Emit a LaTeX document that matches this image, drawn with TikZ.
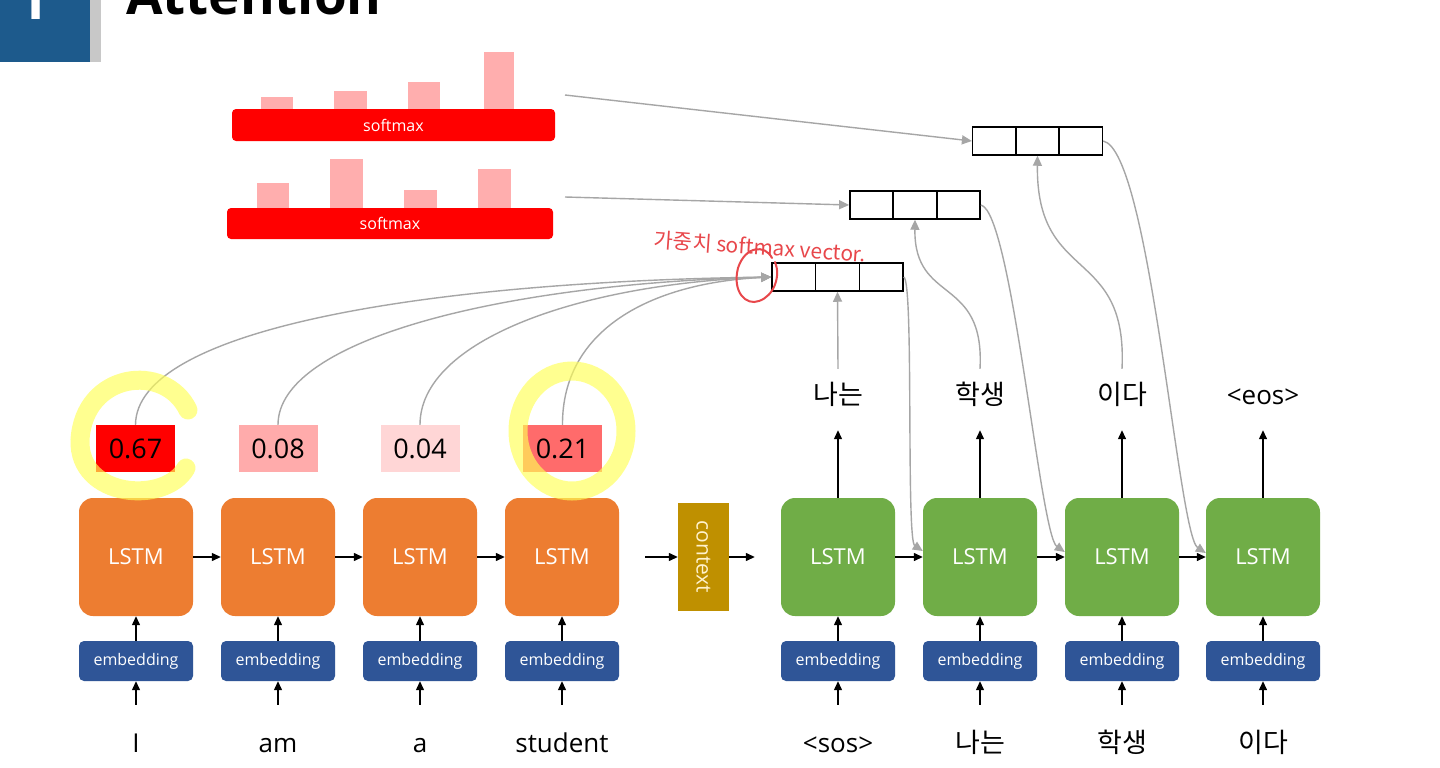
\documentclass[tikz,border=0pt]{standalone}
\usepackage{fontspec}
\setmainfont{Open Sans}
\newfontfamily\kr{Noto Sans CJK KR}
\usetikzlibrary{arrows.meta}
\definecolor{lstmenc}{HTML}{ED7D31}
\definecolor{lstmdec}{HTML}{70AD47}
\definecolor{embblue}{HTML}{2F5597}
\definecolor{ctxgold}{HTML}{BF9000}
\definecolor{ctxtext}{HTML}{FFF2CC}
\definecolor{smred}{HTML}{FF0000}
\definecolor{barpink}{HTML}{FFAEAE}
\definecolor{linkgray}{HTML}{A6A6A6}
\definecolor{penred}{HTML}{E8474B}
\definecolor{hiyellow}{HTML}{FFFF55}
\definecolor{hdrblue}{HTML}{1D5A8C}
\definecolor{hdrgray}{HTML}{C8C8C8}
\definecolor{scA}{HTML}{FF0000}
\definecolor{scB}{HTML}{FFABAB}
\definecolor{scC}{HTML}{FFD6D6}
\definecolor{scD}{HTML}{FF6B6B}
\begin{document}
\begin{tikzpicture}[x=1pt,y=-1pt,
    lstm/.style={rounded corners=14pt, minimum width=114pt, minimum height=118pt, inner sep=0pt, text=white, font=\fontsize{22}{24}\selectfont},
    enc/.style={lstm, fill=lstmenc},
    dec/.style={lstm, fill=lstmdec},
    emb/.style={rounded corners=5pt, fill=embblue, minimum width=114pt, minimum height=40pt, inner sep=0pt, text=white, font=\fontsize{16}{18}\selectfont},
    word/.style={anchor=base, inner sep=0pt, text height=20pt, text depth=6pt, font=\fontsize{26}{30}\selectfont},
    kword/.style={word, font=\kr\fontsize{27}{30}\selectfont},
    score/.style={minimum width=79pt, minimum height=47pt, inner sep=0pt, font=\fontsize{27}{30}\selectfont},
    cell/.style={draw=black, line width=1.5pt, minimum width=43.7pt, minimum height=28pt, inner sep=0pt},
    smbar/.style={fill=smred, rounded corners=4pt, inner sep=0pt, text=white, font=\fontsize{16}{18}\selectfont},
    flow/.style={-{Triangle[length=9pt,width=8pt]}, line width=1.3pt},
    link/.style={draw=linkgray, line width=1.4pt, -{Triangle[length=10pt,width=9pt]}},
    hilite/.style={draw=hiyellow, opacity=0.65, line width=19pt, line cap=round},
  ]
  \useasboundingbox (0,0) rectangle (1440,768);
  \clip (0,0) rectangle (1440,768);
  \fill[white] (0,0) rectangle (1440,768);

  % header
  \fill[hdrblue] (0,0) rectangle (90,62);
  \fill[hdrgray] (90,0) rectangle (101,62);
  \node[anchor=base west, inner sep=0pt, text=white, font=\bfseries\fontsize{55}{60}\selectfont](num) at (17,20) {1};
  \node[anchor=base west, inner sep=0pt, font=\bfseries\fontsize{53}{60}\selectfont](title) at (126,15) {Attention};

  % softmax bars
  \fill[barpink] (261,97) rectangle (293,109);
  \fill[barpink] (334,91) rectangle (367,109);
  \fill[barpink] (408,82) rectangle (440,109);
  \fill[barpink] (484,52) rectangle (514,109);
  \node[smbar, minimum width=323pt, minimum height=32pt](sm1) at (393.5,125) {softmax};
  \fill[barpink] (257,183) rectangle (289,208);
  \fill[barpink] (330,159) rectangle (363,208);
  \fill[barpink] (404,190) rectangle (437,208);
  \fill[barpink] (478,169) rectangle (511,208);
  \node[smbar, minimum width=326pt, minimum height=31pt](sm2) at (390,223.5) {softmax};
  \coordinate(sm1out) at (565,95);
  \coordinate(sm2out) at (565,197);

  % context vectors
  \node[cell](v1a) at (793.8,277) {};
  \node[cell](v1b) at (837.5,277) {};
  \node[cell](v1c) at (881.2,277) {};
  \node[cell](v2a) at (871.7,205) {};
  \node[cell](v2b) at (915,205) {};
  \node[cell](v2c) at (958.3,205) {};
  \node[cell](v3a) at (994.5,141) {};
  \node[cell](v3b) at (1037.5,141) {};
  \node[cell](v3c) at (1080.5,141) {};

  % encoder
  \node[score, fill=scA](s1) at (135.5,448.5) {0.67};
  \node[score, fill=scB](s2) at (278,448.5) {0.08};
  \node[score, fill=scC](s3) at (420,448.5) {0.04};
  \node[score, fill=scD](s4) at (562.5,448.5) {0.21};
  \node[enc](e1) at (136,557) {LSTM};
  \node[enc](e2) at (278,557) {LSTM};
  \node[enc](e3) at (420,557) {LSTM};
  \node[enc](e4) at (562,557) {LSTM};
  \node[emb](m1) at (136,661) {embedding};
  \node[emb](m2) at (278,661) {embedding};
  \node[emb](m3) at (420,661) {embedding};
  \node[emb](m4) at (562,661) {embedding};
  \node[word](w1) at (136,752) {I};
  \node[word](w2) at (278,752) {am};
  \node[word](w3) at (420,752) {a};
  \node[word](w4) at (562,752) {student};

  \node[fill=ctxgold, minimum width=108pt, minimum height=51pt, inner sep=0pt, text=ctxtext, rotate=-90, font=\fontsize{21}{23}\selectfont](ctx) at (703.5,557) {context};

  % decoder
  \node[dec](d1) at (838,557) {LSTM};
  \node[dec](d2) at (980,557) {LSTM};
  \node[dec](d3) at (1122,557) {LSTM};
  \node[dec](d4) at (1263,557) {LSTM};
  \node[emb](m5) at (838,661) {embedding};
  \node[emb](m6) at (980,661) {embedding};
  \node[emb](m7) at (1122,661) {embedding};
  \node[emb](m8) at (1263,661) {embedding};
  \node[word](w5) at (838,752) {<sos>};
  \node[kword](w6) at (980,752) {나는};
  \node[kword](w7) at (1122,752) {학생};
  \node[kword](w8) at (1263,752) {이다};
  \node[kword](o1) at (838,404) {나는};
  \node[kword](o2) at (980,404) {학생};
  \node[kword](o3) at (1122,404) {이다};
  \node[word](o4) at (1263,404) {<eos>};

  % black arrows
  \draw[flow]([yshift=27pt]w1.north) -- (m1.south);
  \draw[flow]([yshift=27pt]w2.north) -- (m2.south);
  \draw[flow]([yshift=27pt]w3.north) -- (m3.south);
  \draw[flow]([yshift=27pt]w4.north) -- (m4.south);
  \draw[flow]([yshift=27pt]w5.north) -- (m5.south);
  \draw[flow]([yshift=27pt]w6.north) -- (m6.south);
  \draw[flow]([yshift=27pt]w7.north) -- (m7.south);
  \draw[flow]([yshift=27pt]w8.north) -- (m8.south);
  \draw[flow](m1) -- (e1);
  \draw[flow](m2) -- (e2);
  \draw[flow](m3) -- (e3);
  \draw[flow](m4) -- (e4);
  \draw[flow](m5) -- (d1);
  \draw[flow](m6) -- (d2);
  \draw[flow](m7) -- (d3);
  \draw[flow](m8) -- (d4);
  \draw[flow](e1) -- (e2);
  \draw[flow](e2) -- (e3);
  \draw[flow](e3) -- (e4);
  \draw[flow, shorten <=26pt](e4) -- (ctx);
  \draw[flow, shorten >=26pt](ctx) -- (d1);
  \draw[flow](d1) -- (d2);
  \draw[flow](d2) -- (d3);
  \draw[flow](d3) -- (d4);
  \draw[flow](d1.north) -- ([yshift=-20pt]o1.south);
  \draw[flow](d2.north) -- ([yshift=-20pt]o2.south);
  \draw[flow](d3.north) -- ([yshift=-20pt]o3.south);
  \draw[flow](d4.north) -- ([yshift=-20pt]o4.south);

  % attention links
  \draw[link](s1.north) .. controls (136,330) and (420,282) .. (v1a.west);
  \draw[link](s2.north) .. controls (278,340) and (500,284) .. (v1a.west);
  \draw[link](s3.north) .. controls (420,340) and (580,284) .. (v1a.west);
  \draw[link](s4.north) .. controls (562,330) and (650,283) .. (v1a.west);
  \draw[link]([yshift=15pt]o1.north) -- (v1b.south);
  \draw[link]([yshift=15pt]o2.north) .. controls (985,275) and (914,305) .. (v2b.south);
  \draw[link]([yshift=15pt]o3.north) .. controls (1128,245) and (1036,285) .. (v3b.south);
  \draw[link](sm1out) -- (v3a.west);
  \draw[link](sm2out) -- (v2a.west);
  \draw[link](v1c.east) .. controls (914,282) and (906,540) .. ([yshift=6pt]d2.west);
  \draw[link](v2c.east) .. controls (1012,212) and (1040,535) .. ([yshift=5pt]d3.west);
  \draw[link](v3c.east) .. controls (1150,150) and (1178,535) .. ([yshift=4pt]d4.west);

  % highlights
  \draw[hilite] (188,410) .. controls (165,362) and (84,372) .. (80,440) .. controls (78,498) and (165,505) .. (186,468);
  \draw[hilite] (572,431) ellipse [x radius=54, y radius=60];

  % pen note
  \draw[penred, line width=2pt, line cap=round] (772,258) .. controls (765,244) and (745,246) .. (738,268) .. controls (732,292) and (746,306) .. (759,301) .. controls (774,296) and (781,276) .. (775,262);
  \node[text=penred, rotate=-4, inner sep=0pt, font=\kr\fontsize{21}{23}\selectfont](note) at (760,247) {가중치 softmax vector.};
\end{tikzpicture}
\end{document}
